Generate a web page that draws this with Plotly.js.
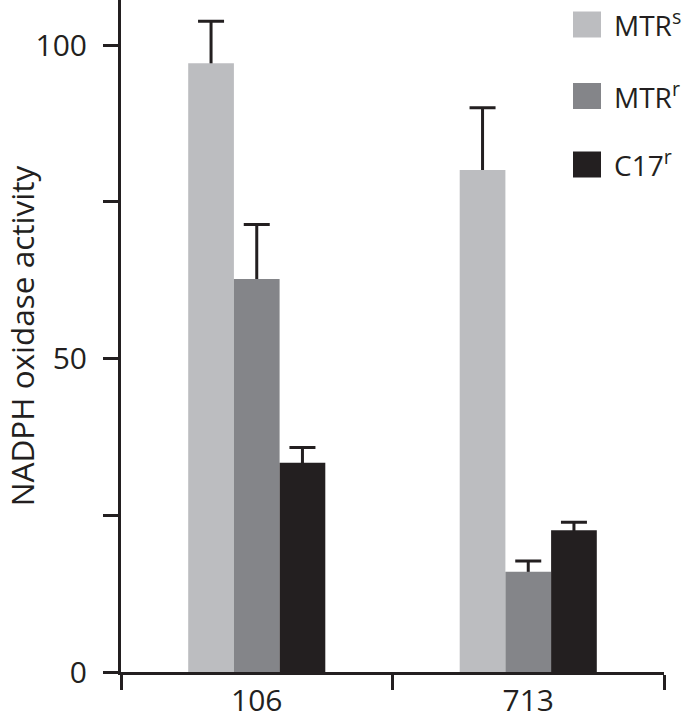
<!DOCTYPE html>
<html>
<head>
<meta charset="utf-8">
<script src="https://cdn.plot.ly/plotly-3.0.1.min.js"></script>
<style>
  html, body { margin: 0; padding: 0; background: #ffffff; }
  #chart { width: 691px; height: 721px; }
</style>
</head>
<body>
<div id="chart"></div>
<script>
// ---- data ----
var categories = ['106', '713'];
var seriesNames = ['MTR<sup>s</sup>', 'MTR<sup>r</sup>', 'C17<sup>r</sup>'];
var mtrS = [97.1, 80.1];
var mtrSErr = [6.7, 9.9];
var mtrR = [62.7, 16.0];
var mtrRErr = [8.7, 1.7];
var c17R = [33.4, 22.6];
var c17RErr = [2.4, 1.3];
var yTickVals = [0, 50, 100];
var yTickText = ['0', '50', '100'];
var yMinorTickVals = [25, 75];
var yTitle = 'NADPH oxidase activity';

// ---- styling ----
var colors = ['#bcbdc0', '#848589', '#231f20'];
var ink = '#231f20';
var fontFamily = '"Open Sans", "Noto Sans", sans-serif';
var W = 691, H = 721;
var M = {l: 121, r: 27, t: 0, b: 49};
var plotW = W - M.l - M.r, plotH = H - M.t - M.b;

var seriesVals = [mtrS, mtrR, c17R];
var seriesErrs = [mtrSErr, mtrRErr, c17RErr];
var groups = ['a', 'b', 'c'];

var traces = [];
// error-bar carriers drawn first (stems hidden beneath the real bars)
for (var i = 0; i < 3; i++) {
  traces.push({
    type: 'bar', x: categories, y: seriesVals[i],
    offsetgroup: groups[i],
    marker: {color: 'rgba(0,0,0,0)', line: {width: 0}},
    error_y: {type: 'data', symmetric: false, array: seriesErrs[i],
              arrayminus: seriesVals[i], color: ink, thickness: 3, width: 13},
    showlegend: false, hoverinfo: 'skip'
  });
}
for (var j = 0; j < 3; j++) {
  traces.push({
    type: 'bar', x: categories, y: seriesVals[j], name: seriesNames[j],
    offsetgroup: groups[j],
    marker: {color: colors[j], line: {width: 0}},
    showlegend: false
  });
}

// manual legend (large squares)
var legendCentersPx = [24.5, 96, 164.5];
var sqX0 = 573, sqX1 = 601, sqH = 26, textX = 612;
var shapes = [], annotations = [];
function px2paperX(px) { return (px - M.l) / plotW; }
function px2paperY(py) { return 1 - (py - M.t) / plotH; }
for (var k = 0; k < 3; k++) {
  var cy = legendCentersPx[k];
  shapes.push({
    type: 'rect', xref: 'paper', yref: 'paper',
    x0: px2paperX(sqX0), x1: px2paperX(sqX1),
    y0: px2paperY(cy + sqH / 2), y1: px2paperY(cy - sqH / 2),
    fillcolor: colors[k], line: {width: 0}
  });
  annotations.push({
    xref: 'paper', yref: 'paper', x: px2paperX(textX), y: px2paperY(cy - 1),
    xanchor: 'left', yanchor: 'middle', showarrow: false,
    text: seriesNames[k], font: {family: fontFamily, size: 28, color: ink}
  });
}

var layout = {
  width: W, height: H,
  margin: M,
  paper_bgcolor: '#ffffff', plot_bgcolor: '#ffffff',
  barmode: 'group', bargap: 0.495, bargroupgap: 0,
  showlegend: false,
  font: {family: fontFamily, color: ink},
  xaxis: {
    type: 'category', range: [-0.5, 1.5],
    tickson: 'boundaries', ticks: 'outside', ticklen: 15, tickwidth: 3, tickcolor: ink,
    showline: true, linewidth: 3, linecolor: ink,
    showgrid: false, zeroline: false,
    tickfont: {family: fontFamily, size: 30, color: ink},
    fixedrange: true
  },
  yaxis: {
    range: [0, 107.2],
    tickmode: 'array', tickvals: yTickVals, ticktext: yTickText,
    ticks: 'outside', ticklen: 15, tickwidth: 3, tickcolor: ink,
    minor: {tickmode: 'array', tickvals: yMinorTickVals, ticks: 'outside',
            ticklen: 15, tickwidth: 3, tickcolor: ink, showgrid: false},
    ticklabelstandoff: 10,
    showline: true, linewidth: 3, linecolor: ink,
    showgrid: false, zeroline: false,
    tickfont: {family: fontFamily, size: 30, color: ink},
    title: {text: yTitle, font: {family: fontFamily, size: 31.5, color: ink}, standoff: 2},
    automargin: false,
    fixedrange: true
  },
  shapes: shapes,
  annotations: annotations
};

Plotly.newPlot('chart', traces, layout, {displayModeBar: false, staticPlot: true});
</script>
</body>
</html>
